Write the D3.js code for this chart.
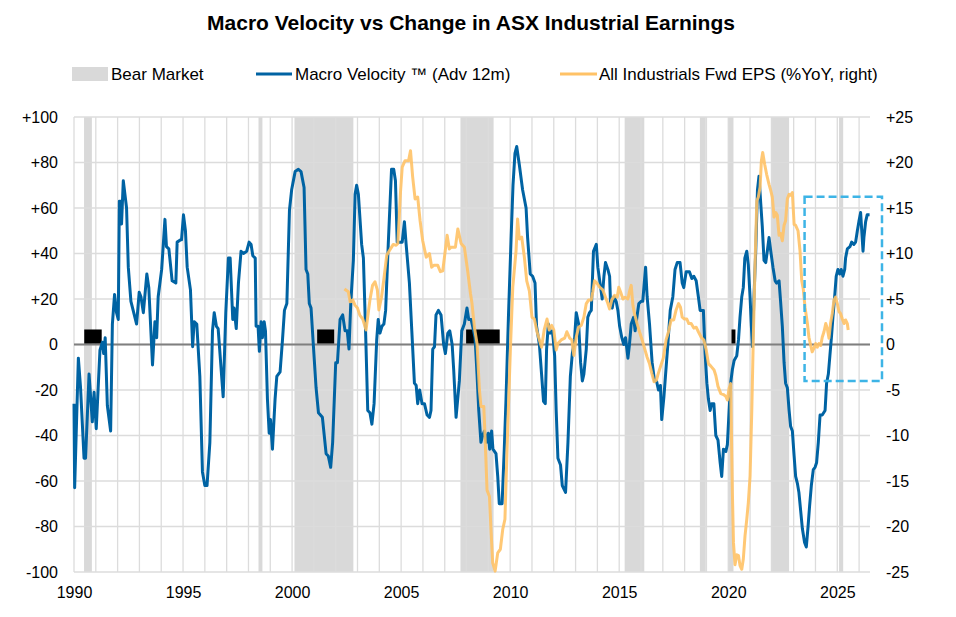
<!DOCTYPE html>
<html>
<head>
<meta charset="utf-8">
<script src="https://cdn.jsdelivr.net/npm/d3@7"></script>
<style>
  body { margin: 0; background: #fff; }
  text { font-family: "Liberation Sans", Arial, sans-serif; fill: #000; }
</style>
</head>
<body>
<div id="chart-area"></div>
<script>

var width = 956,
    height = 617;

// Bear market periods (decimal years)
var bearMarkets = [
    [1990.46, 1990.82], [1998.46, 1998.64], [2000.11, 2002.81], [2007.72, 2009.24],
    [2015.25, 2016.15], [2018.70, 2018.97], [2019.99, 2020.24], [2021.95, 2022.79],
    [2025.08, 2025.27]
];

// Black markers sitting on the zero line (start, end), height in left-axis units
var markers = [[1990.47, 1991.27], [2001.15, 2001.93], [2007.98, 2009.52], [2020.15, 2020.33]];
var markerHeight = 6.6;

// Macro Velocity (Adv 12m), left axis
var velocity = [
    [1990.0,-26],[1990.03,-63],[1990.2,-6],[1990.3,-19],[1990.46,-50],[1990.53,-50],[1990.69,-13],[1990.84,-34],
    [1990.92,-21],[1991.02,-37],[1991.19,-2.5],[1991.3,1],[1991.36,-4],[1991.43,3],[1991.53,-27],[1991.68,-38],
    [1991.76,9],[1991.86,22],[1991.95,14],[1992.03,11],[1992.08,63],[1992.14,63],[1992.18,53],[1992.26,72],
    [1992.41,60],[1992.49,34],[1992.61,19],[1992.87,9],[1992.99,23],[1993.07,21],[1993.18,14],[1993.34,31],
    [1993.43,25],[1993.6,-9],[1993.71,10],[1993.79,3],[1993.86,21],[1994.02,33],[1994.17,55],[1994.24,43],
    [1994.35,42],[1994.5,28],[1994.67,27],[1994.73,45],[1994.89,46],[1994.93,46],[1995.02,57],[1995.11,50],
    [1995.19,34],[1995.34,24],[1995.44,-1],[1995.51,10],[1995.63,9],[1995.77,-14],[1995.89,-56],[1996.0,-62],
    [1996.1,-62],[1996.23,-43],[1996.35,6],[1996.43,14],[1996.53,8],[1996.61,7],[1996.84,-23],[1996.96,14],
    [1997.08,38],[1997.16,38],[1997.28,11],[1997.34,16],[1997.44,7],[1997.54,27],[1997.66,41],[1997.77,40],
    [1997.92,41],[1998.03,45],[1998.12,44],[1998.2,39],[1998.31,38],[1998.35,8],[1998.44,8],[1998.5,-3],
    [1998.58,10],[1998.64,3],[1998.72,10],[1998.78,6],[1998.87,-24],[1998.95,-39],[1999.01,-33],[1999.1,-46],
    [1999.22,-24],[1999.3,-14],[1999.45,-12],[1999.56,2],[1999.65,15],[1999.76,18],[1999.88,59],[1999.98,68],
    [2000.14,76],[2000.29,77],[2000.41,76],[2000.55,69],[2000.64,33],[2000.72,31],[2000.79,18],[2000.87,16],
    [2000.98,-1],[2001.1,-19],[2001.21,-30],[2001.39,-32],[2001.56,-48],[2001.66,-49],[2001.77,-54],[2001.86,-43],
    [2002.0,-8],[2002.08,-8],[2002.2,11],[2002.32,13],[2002.43,6],[2002.53,6],[2002.61,-2],[2002.69,18],
    [2002.81,37],[2002.89,66],[2002.96,70],[2003.04,66],[2003.19,44],[2003.27,38],[2003.37,6],[2003.47,-29],
    [2003.57,-30],[2003.66,-35],[2003.76,-26],[2003.88,2],[2003.95,11],[2004.03,5],[2004.12,8],[2004.21,9],
    [2004.29,15],[2004.41,44],[2004.56,77],[2004.66,77],[2004.74,72],[2004.82,45],[2004.92,45],[2005.05,45],
    [2005.15,54],[2005.23,44],[2005.38,27],[2005.49,6],[2005.61,-17],[2005.69,-18],[2005.76,-26],[2005.85,-20],
    [2005.96,-26],[2006.07,-26],[2006.19,-31],[2006.3,-32],[2006.37,-29],[2006.45,-2],[2006.53,-1],[2006.6,13],
    [2006.71,15],[2006.83,13],[2006.95,0],[2007.03,-4],[2007.14,5],[2007.23,6],[2007.34,0],[2007.41,-11],
    [2007.52,-32],[2007.67,-16],[2007.78,6],[2007.9,9],[2008.02,16],[2008.1,11],[2008.21,11],[2008.28,8],
    [2008.39,3],[2008.48,-13],[2008.56,-29],[2008.66,-43],[2008.74,-40],[2008.82,-38],[2008.91,-43],[2009.0,-39],
    [2009.06,-46],[2009.15,-38],[2009.21,-46],[2009.35,-48],[2009.43,-58],[2009.5,-70],[2009.63,-70],[2009.73,-46],
    [2009.81,-24],[2009.92,12],[2010.04,46],[2010.13,70],[2010.22,84],[2010.3,87],[2010.42,79],[2010.57,68],
    [2010.73,60],[2010.8,47],[2010.92,31],[2011.03,30],[2011.14,27],[2011.21,8],[2011.34,0],[2011.44,-13],
    [2011.53,-25],[2011.61,-26],[2011.67,-2],[2011.75,9],[2011.84,5],[2011.93,6],[2011.97,3],[2012.04,-5],
    [2012.11,-29],[2012.19,-50],[2012.31,-53],[2012.39,-62],[2012.54,-65],[2012.65,-43],[2012.76,-14],[2012.85,-4],
    [2012.95,2],[2013.03,14],[2013.14,9],[2013.23,-8],[2013.31,-16],[2013.38,-13],[2013.49,-2],[2013.56,12],
    [2013.64,14],[2013.72,15],[2013.82,41],[2013.95,44],[2014.02,34],[2014.15,25],[2014.22,20],[2014.3,30],
    [2014.37,36],[2014.48,33],[2014.56,30],[2014.6,19],[2014.68,16],[2014.76,21],[2014.86,19],[2014.94,15],
    [2015.02,8],[2015.12,3],[2015.21,0],[2015.29,3],[2015.4,-6],[2015.47,0],[2015.55,9],[2015.66,12],
    [2015.73,6],[2015.81,12],[2015.9,18],[2016.01,19],[2016.08,19],[2016.21,34],[2016.28,21],[2016.39,9],
    [2016.51,-8],[2016.62,-16],[2016.71,-16],[2016.8,-20],[2016.89,-18],[2016.95,-33],[2017.05,-23],[2017.12,-14],
    [2017.23,0],[2017.34,15],[2017.46,21],[2017.56,33],[2017.66,36],[2017.79,36],[2017.89,27],[2017.96,25],
    [2018.07,32],[2018.22,32],[2018.33,29],[2018.42,30],[2018.53,28],[2018.63,21],[2018.71,15],[2018.86,15],
    [2018.94,-4],[2019.02,-17],[2019.09,-24],[2019.17,-29],[2019.24,-26],[2019.34,-26],[2019.43,-40],[2019.53,-42],
    [2019.63,-52],[2019.7,-58],[2019.78,-46],[2019.89,-47],[2019.96,-44],[2020.04,-29],[2020.11,-17],[2020.19,-11],
    [2020.27,-7],[2020.39,-5],[2020.47,2],[2020.54,12],[2020.62,21],[2020.69,25],[2020.76,38],[2020.85,41],
    [2020.92,35],[2021.0,21],[2021.06,8],[2021.11,-1],[2021.18,21],[2021.26,41],[2021.34,68],[2021.41,74],
    [2021.49,62],[2021.56,52],[2021.64,37],[2021.72,36],[2021.79,41],[2021.87,47],[2021.95,41],[2022.05,34],
    [2022.15,28],[2022.22,27],[2022.33,28],[2022.4,19],[2022.48,8],[2022.56,-8],[2022.63,-17],[2022.71,-19],
    [2022.79,-29],[2022.86,-36],[2022.94,-38],[2023.02,-49],[2023.09,-58],[2023.17,-61],[2023.24,-65],[2023.32,-73],
    [2023.4,-81],[2023.5,-87],[2023.58,-89],[2023.66,-80],[2023.73,-71],[2023.81,-62],[2023.9,-55],[2023.98,-54],
    [2024.05,-52],[2024.13,-43],[2024.21,-31],[2024.31,-31],[2024.44,-29],[2024.51,-17],[2024.59,-13],[2024.66,-5],
    [2024.73,3],[2024.8,12],[2024.88,21],[2024.95,30],[2025.03,33],[2025.11,31],[2025.18,33],[2025.26,30],
    [2025.34,33],[2025.38,38],[2025.46,42],[2025.58,43],[2025.66,45],[2025.76,44],[2025.84,45],[2025.92,50],
    [2025.99,54],[2026.07,58],[2026.18,41],[2026.22,47],[2026.3,54],[2026.37,57],[2026.48,57]
];

// All Industrials Fwd EPS (%YoY), right axis
var eps = [
    [2002.4,6.1],[2002.58,5.8],[2002.66,4.7],[2002.78,4.9],[2002.89,4.3],[2003.0,4.0],[2003.11,3.2],[2003.24,2.8],
    [2003.39,1.6],[2003.57,4.9],[2003.69,6.5],[2003.8,6.9],[2003.91,6],[2003.98,3.8],[2004.1,5.2],[2004.21,7.2],
    [2004.34,9.8],[2004.46,10.3],[2004.64,11],[2004.77,10.9],[2004.85,11.1],[2004.97,16.7],[2005.05,19.5],[2005.18,20.2],
    [2005.34,20.2],[2005.43,21.3],[2005.53,18.4],[2005.64,16],[2005.76,16.2],[2005.87,13.6],[2005.99,11.4],[2006.15,9.6],
    [2006.3,10],[2006.4,8.5],[2006.5,8.7],[2006.68,8.7],[2006.8,8],[2006.91,8.1],[2007.11,12],[2007.21,10.5],
    [2007.29,10.7],[2007.49,10.7],[2007.6,12.7],[2007.75,11.1],[2007.9,10.7],[2008.05,8.1],[2008.18,5.6],[2008.25,4.5],
    [2008.36,1.9],[2008.48,0.1],[2008.59,-5],[2008.66,-6.8],[2008.79,-6.8],[2008.86,-10.8],[2008.94,-16],[2009.05,-16.7],
    [2009.12,-20.3],[2009.2,-24],[2009.31,-24.9],[2009.43,-22.9],[2009.55,-22.5],[2009.66,-20.3],[2009.76,-19.2],[2009.89,-9],
    [2010.01,-0.6],[2010.12,6.3],[2010.27,10.3],[2010.34,13.8],[2010.42,11.6],[2010.53,11.8],[2010.65,9.6],[2010.76,7],
    [2010.88,5.9],[2011.0,3],[2011.11,2.8],[2011.23,1.4],[2011.34,0.5],[2011.44,-0.3],[2011.56,1.6],[2011.69,2.8],
    [2011.79,1.6],[2011.9,2.1],[2012.0,1.6],[2012.11,-0.6],[2012.19,0.1],[2012.34,0.5],[2012.5,0.7],[2012.6,1.4],
    [2012.73,0.7],[2012.83,0.5],[2012.92,-1.2],[2013.03,0.8],[2013.14,1.9],[2013.26,2.1],[2013.38,3],[2013.49,4.5],
    [2013.6,4.9],[2013.72,4.9],[2013.79,5.8],[2013.87,7],[2013.99,6.7],[2014.1,6.3],[2014.25,6],[2014.37,5.2],
    [2014.48,4.5],[2014.56,3.9],[2014.66,4.9],[2014.79,5.4],[2014.91,5.2],[2014.98,6.3],[2015.06,5.8],[2015.17,5],
    [2015.27,5.2],[2015.4,5],[2015.47,5.8],[2015.55,6.5],[2015.63,4.3],[2015.7,3.4],[2015.82,2.3],[2015.93,1.4],
    [2016.05,0.5],[2016.16,-0.4],[2016.28,-1.4],[2016.39,-2.1],[2016.5,-3.2],[2016.6,-4.1],[2016.71,-3.9],[2016.79,-3.2],
    [2016.91,-2.3],[2017.02,-1.5],[2017.15,0.5],[2017.26,1.4],[2017.38,2.7],[2017.5,2.7],[2017.61,3.8],[2017.72,4.5],
    [2017.81,4.1],[2017.89,3],[2017.99,2.8],[2018.1,2.8],[2018.19,2.3],[2018.3,2.3],[2018.42,1.8],[2018.53,1.9],
    [2018.63,1.4],[2018.76,0.8],[2018.88,0.5],[2018.99,-0.6],[2019.09,-2.1],[2019.21,-2.4],[2019.35,-2.8],[2019.43,-3.4],
    [2019.53,-4.6],[2019.66,-5.4],[2019.78,-5.5],[2019.89,-5.7],[2019.96,-6.1],[2020.04,-4.8],[2020.11,-4.3],[2020.19,-16.3],
    [2020.24,-21.8],[2020.31,-24.2],[2020.39,-23.1],[2020.47,-23.2],[2020.54,-24.3],[2020.62,-24.7],[2020.69,-23.6],[2020.77,-21],
    [2020.85,-19.2],[2020.92,-17.4],[2021.0,-14.5],[2021.08,-7.2],[2021.15,0.8],[2021.23,8.9],[2021.31,15.8],[2021.38,16.2],
    [2021.46,17.3],[2021.52,20.2],[2021.58,21.1],[2021.67,19.8],[2021.76,18.7],[2021.87,17.6],[2021.95,16.9],[2022.02,16.2],
    [2022.1,14],[2022.18,14.5],[2022.25,14.2],[2022.33,12],[2022.4,12.2],[2022.48,11.4],[2022.56,13.1],[2022.63,13.6],
    [2022.71,16],[2022.79,16.5],[2022.86,16.4],[2022.94,16.7],[2023.02,13.2],[2023.09,13.1],[2023.2,12.5],[2023.29,10.3],
    [2023.37,7],[2023.44,6.1],[2023.52,4.1],[2023.63,2.3],[2023.7,0.8],[2023.78,-0.1],[2023.85,-0.8],[2023.93,-0.4],
    [2024.01,0.1],[2024.08,-0.3],[2024.16,0.1],[2024.24,-0.1],[2024.31,0.8],[2024.39,1.4],[2024.47,2.3],[2024.54,1.8],
    [2024.62,0.7],[2024.69,2.3],[2024.77,3.4],[2024.85,4.9],[2024.92,5.2],[2025.0,4.5],[2025.08,3.6],[2025.15,3.4],
    [2025.23,2.8],[2025.31,2.3],[2025.38,2.7],[2025.46,2.3],[2025.5,1.6]
];

// Tick values
var xLabelYears = [1990, 1995, 2000, 2005, 2010, 2015, 2020, 2025];
var leftTicks = [-100, -80, -60, -40, -20, 0, 20, 40, 60, 80, 100];
var rightTicks = [-25, -20, -15, -10, -5, 0, 5, 10, 15, 20, 25];

// Highlight box (year range, left-axis range)
var highlight = { x0: 2023.5, x1: 2027.05, y0: 65, y1: -16 };

var margin = { left: 74, right: 86, top: 117, bottom: 45 };

var svg = d3.select("#chart-area").append("svg")
    .attr("width", width)
    .attr("height", height);

var x = d3.scaleLinear().domain([1990, 2026.5]).range([margin.left, width - margin.right]);
var yL = d3.scaleLinear().domain([-100, 100]).range([height - margin.bottom, margin.top]);
var yR = d3.scaleLinear().domain([-25, 25]).range([height - margin.bottom, margin.top]);

// Title
svg.append("text")
    .attr("x", 471).attr("y", 30)
    .attr("text-anchor", "middle")
    .style("font-weight", "bold")
    .style("font-size", "21px")
    .text("Macro Velocity vs Change in ASX Industrial Earnings");

// Bear market shading
svg.selectAll(".bear")
    .data(bearMarkets)
    .enter().append("rect")
    .attr("class", "bear")
    .attr("x", function(d) { return x(d[0]); })
    .attr("width", function(d) { return x(d[1]) - x(d[0]); })
    .attr("y", yL(100))
    .attr("height", yL(-100) - yL(100))
    .attr("fill", "#d9d9d9");

// Grid lines
svg.append("g")
    .selectAll("line")
    .data(d3.range(1990, 2027))
    .enter().append("line")
    .attr("x1", function(d) { return x(d); })
    .attr("x2", function(d) { return x(d); })
    .attr("y1", yL(100)).attr("y2", yL(-100))
    .attr("stroke", "#dcdcdc").attr("stroke-width", 1.3);

svg.append("g")
    .selectAll("line")
    .data(leftTicks)
    .enter().append("line")
    .attr("x1", x(1990)).attr("x2", x(2026.5))
    .attr("y1", function(d) { return yL(d); })
    .attr("y2", function(d) { return yL(d); })
    .attr("stroke", "#dcdcdc").attr("stroke-width", 1.3);

// Zero line
svg.append("line")
    .attr("x1", x(1990)).attr("x2", x(2026.5))
    .attr("y1", yL(0)).attr("y2", yL(0))
    .attr("stroke", "#7f7f7f").attr("stroke-width", 2);

// Black markers
svg.selectAll(".marker")
    .data(markers)
    .enter().append("rect")
    .attr("class", "marker")
    .attr("x", function(d) { return x(d[0]); })
    .attr("width", function(d) { return x(d[1]) - x(d[0]); })
    .attr("y", yL(markerHeight))
    .attr("height", yL(0) - yL(markerHeight) - 1)
    .attr("fill", "#000");

// Lines
var lineL = d3.line()
    .x(function(d) { return x(d[0]); })
    .y(function(d) { return yL(d[1]); });

var lineR = d3.line()
    .x(function(d) { return x(d[0]); })
    .y(function(d) { return yR(d[1]); });

svg.append("path")
    .datum(velocity)
    .attr("d", lineL)
    .attr("fill", "none")
    .attr("stroke", "#0063a3")
    .attr("stroke-width", 3)
    .attr("stroke-linejoin", "round");

svg.append("path")
    .datum(eps)
    .attr("d", lineR)
    .attr("fill", "none")
    .attr("stroke", "#ffc266")
    .attr("stroke-opacity", 0.9)
    .attr("stroke-width", 3)
    .attr("stroke-linejoin", "round");

// Highlight box
svg.append("rect")
    .attr("x", x(highlight.x0))
    .attr("y", yL(highlight.y0))
    .attr("width", x(highlight.x1) - x(highlight.x0))
    .attr("height", yL(highlight.y1) - yL(highlight.y0))
    .attr("fill", "none")
    .attr("stroke", "#3db4e6")
    .attr("stroke-width", 2.5)
    .attr("stroke-dasharray", "8,4");

// Axes (labels only)
var fmtL = function(d) { return d > 0 ? "+" + d : d; };

var leftAxis = svg.append("g")
    .attr("transform", "translate(" + (margin.left - 16) + ",0)")
    .call(d3.axisLeft(yL).tickValues(leftTicks).tickFormat(fmtL).tickSize(0));

var rightAxis = svg.append("g")
    .attr("transform", "translate(" + (width - margin.right + 16) + ",0)")
    .call(d3.axisRight(yR).tickValues(rightTicks).tickFormat(fmtL).tickSize(0));

var bottomAxis = svg.append("g")
    .attr("transform", "translate(0," + (height - margin.bottom + 12) + ")")
    .call(d3.axisBottom(x).tickValues(xLabelYears).tickFormat(d3.format("d")).tickSize(0));

[leftAxis, rightAxis, bottomAxis].forEach(function(a) {
    a.select(".domain").remove();
    a.selectAll("text")
        .style("font-family", "'Liberation Sans', Arial, sans-serif")
        .style("font-size", "16px")
        .attr("fill", "#000");
});
leftAxis.selectAll("text").attr("x", 0);
rightAxis.selectAll("text").attr("x", 0);

// Legend
var legend = svg.append("g").attr("class", "legend");
legend.append("rect")
    .attr("x", 72).attr("y", 67).attr("width", 36).attr("height", 14)
    .attr("fill", "#d9d9d9");
legend.append("line")
    .attr("x1", 256).attr("x2", 292).attr("y1", 74).attr("y2", 74)
    .attr("stroke", "#0063a3").attr("stroke-width", 3);
legend.append("line")
    .attr("x1", 560).attr("x2", 597).attr("y1", 74).attr("y2", 74)
    .attr("stroke", "#ffc266").attr("stroke-width", 3);

var legendText = [
    { x: 111, t: "Bear Market" },
    { x: 295, t: "Macro Velocity \u2122 (Adv 12m)" },
    { x: 599, t: "All Industrials Fwd EPS (%YoY, right)" }
];
legend.selectAll("text")
    .data(legendText)
    .enter().append("text")
    .attr("x", function(d) { return d.x; })
    .attr("y", 80)
    .style("font-family", "'Liberation Sans', Arial, sans-serif")
    .style("font-size", "17px")
    .text(function(d) { return d.t; });

</script>
</body>
</html>
